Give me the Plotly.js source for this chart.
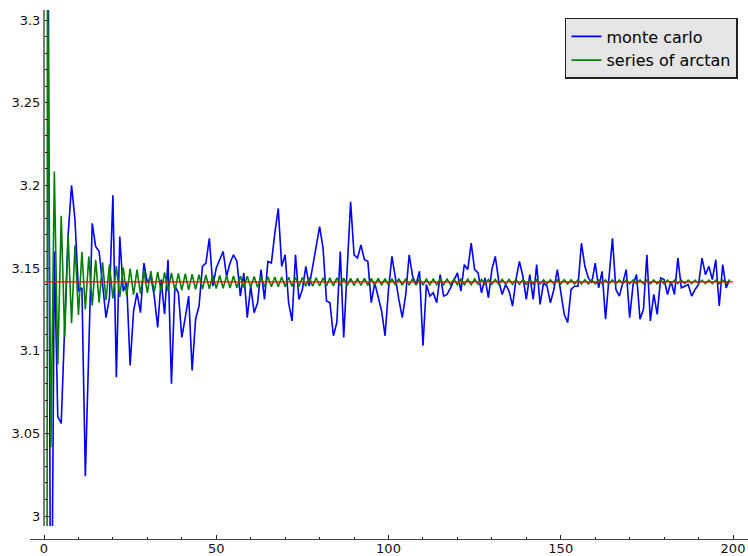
<!DOCTYPE html>
<html>
<head>
<meta charset="utf-8">
<script src="https://cdn.plot.ly/plotly-3.0.1.min.js"></script>
<style>html,body{margin:0;padding:0;background:#fff;}#chart{width:748px;height:556px;}</style>
</head>
<body>
<div id="chart"></div>
<script>
// ---- data ----
const monteCarlo = [
4.0,3.49,2.85,3.160,3.060,3.056,3.115,3.170,3.200,3.179,
3.136,3.138,3.024,3.100,3.177,3.163,3.160,3.140,3.120,3.132,
3.194,3.084,3.169,3.136,3.141,3.091,3.124,3.135,3.123,3.153,
3.141,3.145,3.133,3.114,3.143,3.122,3.155,3.080,3.139,3.135,
3.108,3.120,3.133,3.088,3.119,3.127,3.151,3.153,3.168,3.139,
3.150,3.155,3.160,3.145,3.153,3.158,3.154,3.133,3.147,3.120,
3.139,3.123,3.129,3.149,3.131,3.154,3.153,3.171,3.186,3.151,
3.158,3.129,3.118,3.158,3.131,3.137,3.151,3.139,3.151,3.163,
3.175,3.162,3.130,3.129,3.109,3.117,3.160,3.108,3.150,3.190,
3.158,3.156,3.164,3.155,3.154,3.129,3.141,3.132,3.124,3.109,
3.137,3.157,3.143,3.131,3.120,3.134,3.158,3.145,3.140,3.148,
3.103,3.140,3.133,3.135,3.129,3.146,3.133,3.134,3.138,3.143,
3.147,3.136,3.152,3.149,3.165,3.149,3.147,3.135,3.144,3.132,
3.149,3.157,3.142,3.134,3.140,3.136,3.127,3.143,3.154,3.145,
3.131,3.146,3.131,3.152,3.128,3.141,3.139,3.129,3.137,3.149,
3.134,3.122,3.117,3.137,3.139,3.139,3.165,3.151,3.144,3.141,
3.153,3.138,3.148,3.119,3.144,3.168,3.137,3.133,3.141,3.149,
3.120,3.140,3.146,3.119,3.125,3.158,3.118,3.134,3.122,3.144,
3.143,3.134,3.142,3.134,3.156,3.138,3.139,3.140,3.133,3.137,
3.140,3.156,3.146,3.151,3.143,3.155,3.127,3.152,3.138,3.143
];
const arctanSeries = [
0.0,3.3416,3.0416,3.2083,3.0916,3.1816,3.1083,3.1702,3.1166,3.1638,
3.1216,3.1598,3.1249,3.1570,3.1273,3.1549,3.1291,3.1534,3.1305,3.1521,
3.1316,3.1511,3.1325,3.1503,3.1333,3.1496,3.1339,3.1490,3.1345,3.1485,
3.1349,3.1481,3.1353,3.1477,3.1357,3.1473,3.1360,3.1470,3.1363,3.1467,
3.1366,3.1465,3.1368,3.1462,3.1371,3.1460,3.1373,3.1458,3.1374,3.1457,
3.1376,3.1455,3.1378,3.1454,3.1379,3.1452,3.1380,3.1451,3.1382,3.1450,
3.1383,3.1449,3.1384,3.1448,3.1385,3.1447,3.1386,3.1446,3.1387,3.1445,
3.1387,3.1444,3.1388,3.1443,3.1389,3.1443,3.1390,3.1442,3.1390,3.1441,
3.1391,3.1441,3.1392,3.1440,3.1392,3.1440,3.1393,3.1439,3.1393,3.1438,
3.1394,3.1438,3.1394,3.1438,3.1395,3.1437,3.1395,3.1437,3.1396,3.1436,
3.1396,3.1435,3.1397,3.1435,3.1397,3.1435,3.1397,3.1435,3.1397,3.1435,
3.1397,3.1433,3.1399,3.1433,3.1399,3.1433,3.1399,3.1433,3.1399,3.1433,
3.1399,3.1433,3.1399,3.1433,3.1399,3.1433,3.1401,3.1431,3.1401,3.1431,
3.1401,3.1431,3.1401,3.1431,3.1401,3.1431,3.1401,3.1431,3.1401,3.1431,
3.1401,3.1429,3.1403,3.1429,3.1403,3.1429,3.1403,3.1429,3.1403,3.1429,
3.1403,3.1429,3.1403,3.1429,3.1403,3.1429,3.1403,3.1429,3.1403,3.1429,
3.1403,3.1428,3.1404,3.1428,3.1404,3.1428,3.1404,3.1428,3.1404,3.1428,
3.1404,3.1428,3.1404,3.1428,3.1404,3.1428,3.1404,3.1428,3.1404,3.1428,
3.1404,3.1427,3.1405,3.1427,3.1405,3.1427,3.1405,3.1427,3.1405,3.1427,
3.1405,3.1427,3.1405,3.1427,3.1405,3.1427,3.1405,3.1427,3.1405,3.1427
];
const piX = [0, 200];
const piY = [3.14159, 3.14159];
const seriesNames = ["monte carlo", "series of arctan"];
const xTickVals = [0, 50, 100, 150, 200];
const xTickText = ["0", "50", "100", "150", "200"];
const yTickVals = [3, 3.05, 3.1, 3.15, 3.2, 3.25, 3.3];
const yTickText = ["3", "3.05", "3.1", "3.15", "3.2", "3.25", "3.3"];

const steps = monteCarlo.map((_, i) => i);

const FONT = "DejaVu Sans, Verdana, sans-serif";

const traces = [
  {x: steps, y: monteCarlo, type: "scatter", mode: "lines", name: seriesNames[0],
   line: {color: "#0000ff", width: 1.6}},
  {x: steps, y: arctanSeries, type: "scatter", mode: "lines", name: seriesNames[1],
   line: {color: "#008000", width: 1.6}},
  {x: piX, y: piY, type: "scatter", mode: "lines", showlegend: false, hoverinfo: "skip",
   line: {color: "#ff0000", width: 1.4}}
];

const layout = {
  width: 748, height: 556,
  margin: {l: 30, r: 0, t: 10, b: 17, pad: 0},
  paper_bgcolor: "#ffffff", plot_bgcolor: "#ffffff",
  font: {family: FONT, size: 13, color: "#111"},
  showlegend: true,
  legend: {
    x: 0.986, y: 0.985, xanchor: "right", yanchor: "top",
    bgcolor: "#e5e5e5", bordercolor: "#222", borderwidth: 1.5,
    font: {family: FONT, size: 16, color: "#000"},
    tracegroupgap: 0
  },
  xaxis: {
    range: [-4.064, 204.35], anchor: "free", position: 0,
    showgrid: false, zeroline: false,
    showline: true, linecolor: "#444", linewidth: 1.2,
    tickmode: "array", tickvals: xTickVals, ticktext: xTickText,
    ticks: "inside", ticklen: 4, tickwidth: 1, tickcolor: "#222",
    ticklabelstandoff: -3,
    minor: {tickmode: "linear", tick0: 0, dtick: 10, ticks: "inside", ticklen: 2.5, tickwidth: 1, tickcolor: "#222"},
    tickfont: {family: FONT, size: 13, color: "#111"},
    fixedrange: true
  },
  yaxis: {
    range: [2.99395, 3.30605], domain: [0.02457, 1],
    anchor: "free", position: 0.0195,
    showgrid: false, zeroline: false,
    showline: true, linecolor: "#7a7a7a", linewidth: 2,
    tickmode: "array", tickvals: yTickVals, ticktext: yTickText,
    ticks: "inside", ticklen: 4, tickwidth: 1, tickcolor: "#222",
    minor: {tickmode: "linear", tick0: 3, dtick: 0.01, ticks: "inside", ticklen: 2.5, tickwidth: 1, tickcolor: "#222"},
    tickfont: {family: FONT, size: 13, color: "#111"},
    fixedrange: true
  }
};

Plotly.newPlot("chart", traces, layout, {displayModeBar: false, staticPlot: true});
</script>
</body>
</html>
